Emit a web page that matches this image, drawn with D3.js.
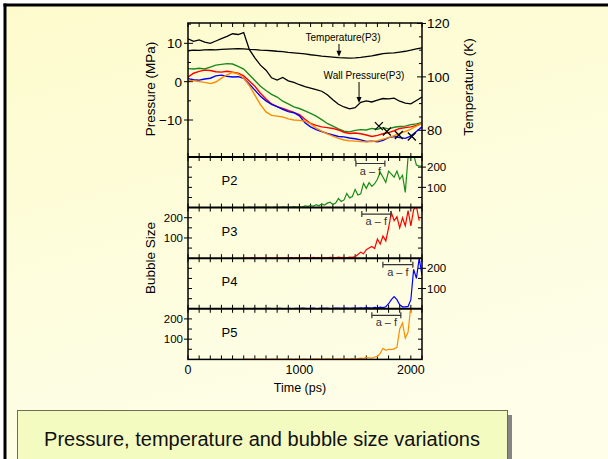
<!DOCTYPE html>
<html>
<head>
<meta charset="utf-8">
<script src="https://cdn.jsdelivr.net/npm/d3@7"></script>
<style>
  html, body { margin: 0; padding: 0; background: #fff; }
  svg { display: block; font-family: "Liberation Sans", Arial, sans-serif; }
</style>
</head>
<body>
<svg id="chart" width="608" height="459"></svg>
<script>
// ---------- data ----------
// Upper panel: time grid (ps) shared by the pressure / temperature traces
const timeTop = [0,50,100,150,200,250,300,350,400,450,500,550,600,650,700,750,800,850,900,950,
  1000,1050,1100,1150,1200,1250,1300,1350,1400,1450,1500,1550,1600,1650,1700,1750,1800,1850,1900,1950,
  2000,2050,2100];

// Wall pressure at P3 (MPa)
const wallPressure = [11.2,10.5,10.9,10.3,10.0,10.6,11.2,11.8,12.5,12.3,12.8,8.4,6.2,4.3,3.0,1.0,0.4,1.1,0.2,-0.2,
  -0.8,-1.3,-1.7,-2.1,-2.5,-3.4,-4.7,-5.9,-6.6,-7.1,-6.8,-5.4,-5.0,-5.3,-4.8,-4.4,-4.5,-4.3,-5.1,-5.6,
  -5.8,-4.9,-4.0];

// Temperature at P3 (K)
const temperature = [109.8,110.0,109.9,110.1,110.2,110.1,110.3,110.4,110.5,110.6,110.5,110.3,110.2,110.0,109.9,109.8,109.6,109.5,109.2,109.0,
  108.8,108.6,108.3,108.1,107.8,107.6,107.4,107.2,107.1,107.0,107.1,107.3,107.6,107.9,108.3,108.7,108.9,109.0,109.3,109.6,
  110.0,110.5,110.9];

// Liquid pressure at the probe points (MPa)
const pressureP2 = [3.4,3.3,3.5,3.3,3.8,4.3,4.5,4.7,4.6,4.0,3.3,1.8,0.3,-1.2,-2.3,-3.3,-4.0,-5.1,-5.8,-6.6,
  -7.0,-7.6,-8.3,-9.0,-9.9,-10.9,-11.6,-12.3,-12.9,-13.1,-12.7,-12.5,-12.6,-12.2,-12.4,-12.0,-12.3,-11.9,-11.7,-11.6,
  -11.2,-11.0,-10.6];
const pressureP3 = [1.2,2.2,2.7,3.0,2.9,2.6,2.5,2.7,2.5,2.2,1.5,0.2,-1.2,-3.0,-4.5,-5.8,-6.5,-7.0,-7.5,-8.0,
  -8.6,-9.8,-10.9,-11.4,-11.8,-12.0,-12.2,-12.6,-13.2,-13.5,-13.4,-13.6,-13.9,-14.3,-14.0,-13.6,-13.3,-12.8,-12.2,-12.0,
  -11.8,-11.4,-10.9];
const pressureP4 = [0.8,0.5,0.4,0.7,0.9,1.5,1.7,1.4,1.2,1.3,0.9,-0.6,-2.2,-3.8,-5.0,-5.9,-6.5,-7.2,-7.8,-8.1,
  -8.9,-10.7,-11.8,-12.5,-13.0,-13.5,-13.9,-14.3,-14.4,-14.7,-14.9,-15.2,-15.6,-15.5,-15.7,-15.3,-14.6,-14.3,-14.6,-14.8,
  -14.2,-13.0,-11.8];
const pressureP5 = [0.4,0.2,0.0,-0.2,-0.5,-0.1,0.9,1.8,2.4,2.0,0.9,-1.0,-3.5,-6.0,-7.9,-8.8,-9.0,-9.2,-9.7,-10.0,
  -10.1,-10.3,-11.0,-12.1,-12.9,-13.6,-14.2,-14.8,-15.2,-15.4,-15.5,-15.6,-15.7,-15.6,-15.4,-15.0,-14.6,-14.1,-13.5,-13.0,
  -12.4,-11.6,-10.9];

// Cavitation onset markers (time in ps, pressure in MPa)
const onsetTime = [1713, 1785, 1892, 2009];
const onsetPressure = [-11.6, -13.0, -13.9, -14.3];

// Bubble panels: time grid (ps)
const timeBubble = [500,525,550,575,600,625,650,675,700,725,750,775,800,825,850,875,900,925,950,975,
  1000,1025,1050,1075,1100,1125,1150,1175,1200,1225,1250,1275,1300,1325,1350,1375,1400,1425,1450,1475,
  1500,1525,1550,1575,1600,1625,1650,1675,1700,1725,1750,1775,1800,1825,1850,1875,1900,1925,1950,1975,
  2000,2025,2050,2075,2100];

const bubbleP2 = [1,0,2,1,0,2,1,3,1,2,0,3,2,1,4,2,3,2,5,3,
  5,3,8,6,10,7,14,9,18,12,22,27,15,23,45,30,38,70,48,55,
  90,62,68,120,95,123,105,118,140,175,150,125,180,165,150,180,140,160,75,250,
  245,262,210,205,205];
const bubbleP3 = [0,1,0,2,1,0,1,0,2,1,0,1,2,1,0,2,1,3,1,2,
  2,1,3,2,1,4,2,3,1,3,2,4,3,2,5,3,4,2,5,4,
  8,18,30,22,42,50,58,48,95,70,110,85,150,225,185,205,150,200,160,235,
  160,240,255,185];
const bubbleP4 = [0,1,0,1,2,0,1,0,1,2,1,0,1,2,1,0,2,1,1,2,
  1,3,2,1,2,3,1,2,4,2,3,1,2,4,3,2,3,4,2,3,
  4,3,5,4,6,5,4,7,5,8,6,10,25,45,60,45,20,10,10,12,
  45,195,150,250,165];
const bubbleP5 = [0,1,0,1,0,2,1,0,1,0,1,2,0,1,0,1,2,1,0,1,
  1,2,1,0,2,1,3,1,2,1,3,2,1,2,3,2,4,3,2,4,
  3,4,6,4,10,8,6,12,15,30,55,45,50,48,52,60,150,180,105,135,
  265];

// Time windows of the snapshots a–f, one per probe panel (ps)
const windowStart = [1507, 1560, 1749, 1650];
const windowEnd   = [1767, 1820, 2018, 1910];

const probeNames = ["P2", "P3", "P4", "P5"];
const probeColors = ["#1a8a1a", "#ff0000", "#0000ff", "#ff8c00"];

// Tick values
const timeTicks = [0, 1000, 2000];
const pressureTicks = [-10, 0, 10];
const temperatureTicks = [80, 100, 120];
const bubbleTicks = [100, 200];

// ---------- layout ----------
const svg = d3.select("#chart");
const left = 188, right = 422;
const topY = 23, topBottom = 157;
const bubbleH = 50.6;

const defs = svg.append("defs");
const bg = defs.append("linearGradient").attr("id", "bg")
  .attr("x1", 0).attr("y1", 0).attr("x2", 0.35).attr("y2", 1);
bg.append("stop").attr("offset", 0).attr("stop-color", "#fdfbcc");
bg.append("stop").attr("offset", 1).attr("stop-color", "#fefee9");

svg.append("rect").attr("width", 608).attr("height", 459).attr("fill", "#ffffff");
svg.append("rect").attr("x", 5).attr("y", 5).attr("width", 603).attr("height", 454).attr("fill", "url(#bg)");
svg.append("line").attr("x1", 3.5).attr("x2", 608).attr("y1", 5).attr("y2", 5)
  .attr("stroke", "#000").attr("stroke-width", 3);
svg.append("line").attr("x1", 5).attr("x2", 5).attr("y1", 3.5).attr("y2", 459)
  .attr("stroke", "#000").attr("stroke-width", 3);

const x = d3.scaleLinear().domain([0, 2100]).range([left, right]);
const yP = d3.scaleLinear().domain([-19.65, 15.3]).range([topBottom, topY]);
const yT = d3.scaleLinear().domain([70, 120]).range([topBottom, topY + 0.5]);

const panelTop = i => topBottom + i * bubbleH;
const yB = probeNames.map((_, i) =>
  d3.scaleLinear().domain([0, 250]).range([panelTop(i) + bubbleH, panelTop(i)]));

// clip paths
defs.append("clipPath").attr("id", "clipTop").append("rect")
  .attr("x", left).attr("y", topY).attr("width", right - left).attr("height", topBottom - topY);
probeNames.forEach((n, i) => {
  defs.append("clipPath").attr("id", "clip" + n).append("rect")
    .attr("x", left).attr("y", panelTop(i)).attr("width", right - left).attr("height", bubbleH);
});

const g = svg.append("g");

// ---------- ticks ----------
const xMinor = d3.range(0, 2101, 100);
function xTicks(yEdge, dir) {
  g.append("g").selectAll("line").data(xMinor).join("line")
    .attr("x1", d => x(d)).attr("x2", d => x(d))
    .attr("y1", yEdge).attr("y2", yEdge + dir * 4)
    .attr("stroke", "#000").attr("stroke-width", 1);
}
xTicks(topY, 1);
xTicks(topBottom, -1);
probeNames.forEach((n, i) => {
  xTicks(panelTop(i), 1);
  xTicks(panelTop(i) + bubbleH, -1);
});

// upper panel left axis (pressure)
const pMinor = [-15, -5, 5, 15];
g.append("g").selectAll("line").data(pMinor).join("line")
  .attr("x1", left).attr("x2", left + 3).attr("y1", d => yP(d)).attr("y2", d => yP(d))
  .attr("stroke", "#000");
g.append("g").selectAll("line").data(pressureTicks).join("line")
  .attr("x1", left - 4).attr("x2", left + 5).attr("y1", d => yP(d)).attr("y2", d => yP(d))
  .attr("stroke", "#000");
g.append("g").selectAll("text").data(pressureTicks).join("text")
  .attr("x", left - 6).attr("y", d => yP(d)).attr("dy", "0.36em")
  .attr("text-anchor", "end").attr("font-size", 13.5)
  .text(d => d < 0 ? "\u2212" + Math.abs(d) : d);

// upper panel right axis (temperature)
const tMinor = [75, 85, 90, 95, 105, 110, 115];
g.append("g").selectAll("line").data(tMinor).join("line")
  .attr("x1", right - 3).attr("x2", right).attr("y1", d => yT(d)).attr("y2", d => yT(d))
  .attr("stroke", "#000");
g.append("g").selectAll("line").data(temperatureTicks).join("line")
  .attr("x1", right - 5).attr("x2", right + 4).attr("y1", d => yT(d)).attr("y2", d => yT(d))
  .attr("stroke", "#000");
g.append("g").selectAll("text").data(temperatureTicks).join("text")
  .attr("x", right + 5).attr("y", d => yT(d)).attr("dy", "0.36em")
  .attr("text-anchor", "start").attr("font-size", 13.5)
  .text(d => d);

// bubble panel axes
const bMinor = [50, 100, 150, 200];
probeNames.forEach((n, i) => {
  const y = yB[i];
  const labelRight = (i % 2 === 0);
  [left, right].forEach(edge => {
    const dir = edge === left ? 1 : -1;
    g.append("g").selectAll("line").data(bMinor).join("line")
      .attr("x1", edge).attr("x2", edge + dir * 4)
      .attr("y1", d => y(d)).attr("y2", d => y(d)).attr("stroke", "#000");
  });
  const edge = labelRight ? right : left;
  const out = labelRight ? 1 : -1;
  g.append("g").selectAll("line").data(bubbleTicks).join("line")
    .attr("x1", edge).attr("x2", edge + out * 4)
    .attr("y1", d => y(d)).attr("y2", d => y(d)).attr("stroke", "#000");
  g.append("g").selectAll("text").data(bubbleTicks).join("text")
    .attr("x", edge + out * 5).attr("y", d => y(d)).attr("dy", "0.36em")
    .attr("text-anchor", labelRight ? "start" : "end").attr("font-size", 11.5)
    .text(d => d);
});

// time axis labels
g.append("g").selectAll("text").data(timeTicks).join("text")
  .attr("x", d => x(d)).attr("y", panelTop(4) + 15)
  .attr("text-anchor", "middle").attr("font-size", 12.5)
  .text(d => d);

// ---------- upper panel traces ----------
const lineP = d3.line().x((d, i) => x(timeTop[i])).y(d => yP(d));
const lineT = d3.line().x((d, i) => x(timeTop[i])).y(d => yT(d));
const topG = g.append("g").attr("clip-path", "url(#clipTop)");

topG.append("path").datum(temperature).attr("d", lineT)
  .attr("fill", "none").attr("stroke", "#000").attr("stroke-width", 1.3);
topG.append("path").datum(wallPressure).attr("d", lineP)
  .attr("fill", "none").attr("stroke", "#000").attr("stroke-width", 1.3);

const probePressures = [pressureP2, pressureP3, pressureP4, pressureP5];
probePressures.forEach((series, i) => {
  topG.append("path").datum(series).attr("d", lineP)
    .attr("fill", "none").attr("stroke", probeColors[i]).attr("stroke-width", 1.4);
});

// onset crosses
onsetTime.forEach((t, i) => {
  const cx = x(t), cy = yP(onsetPressure[i]), r = 4;
  g.append("path")
    .attr("d", `M${cx - r},${cy - r}L${cx + r},${cy + r}M${cx - r},${cy + r}L${cx + r},${cy - r}`)
    .attr("stroke", "#000").attr("stroke-width", 1.3);
});

// annotations with arrows
function valueAt(series, t) {
  const i = d3.bisectLeft(timeTop, t);
  const t0 = timeTop[i - 1], t1 = timeTop[i];
  return series[i - 1] + (series[i] - series[i - 1]) * (t - t0) / (t1 - t0);
}
function arrow(px, yFrom, yTo) {
  g.append("line").attr("x1", px).attr("x2", px).attr("y1", yFrom).attr("y2", yTo - 5)
    .attr("stroke", "#000").attr("stroke-width", 1);
  g.append("path").attr("d", `M${px - 2.5},${yTo - 6}L${px + 2.5},${yTo - 6}L${px},${yTo}Z`).attr("fill", "#000");
}
const tempArrowT = 1355, wallArrowT = 1535;
g.append("text").attr("x", 343).attr("y", 41).attr("text-anchor", "middle")
  .attr("font-size", 10).text("Temperature(P3)");
arrow(x(tempArrowT), 44, yT(valueAt(temperature, tempArrowT)) - 1);
g.append("text").attr("x", 364).attr("y", 79).attr("text-anchor", "middle")
  .attr("font-size", 10).text("Wall Pressure(P3)");
arrow(x(wallArrowT), 82, yP(valueAt(wallPressure, wallArrowT)) - 1);

// ---------- bubble panels ----------
const bubbleSeries = [bubbleP2, bubbleP3, bubbleP4, bubbleP5];
bubbleSeries.forEach((series, i) => {
  const y = yB[i];
  const pg = g.append("g").attr("clip-path", `url(#clip${probeNames[i]})`);
  pg.append("path").datum(series)
    .attr("d", d3.line().x((d, k) => x(timeBubble[k])).y(d => y(d)))
    .attr("fill", "none").attr("stroke", probeColors[i]).attr("stroke-width", 1.2);

  // snapshot window bracket
  const x0 = x(windowStart[i]), x1 = x(windowEnd[i]);
  const by = panelTop(i) + 6.5;
  g.append("path")
    .attr("d", `M${x0},${by - 3}V${by + 3}M${x0},${by}H${x1}M${x1},${by - 3}V${by + 3}`)
    .attr("stroke", "#333").attr("stroke-width", 1.2).attr("fill", "none");
  g.append("text").attr("x", (x0 + x1) / 2).attr("y", by + 11)
    .attr("text-anchor", "middle").attr("font-size", 11).attr("fill", "#333")
    .text("a \u2013 f");

  g.append("text").attr("x", 221.5).attr("y", panelTop(i) + 28)
    .attr("font-size", 13).text(probeNames[i]);
});

// ---------- frame ----------
g.append("rect").attr("x", left).attr("y", topY).attr("width", right - left)
  .attr("height", panelTop(4) - topY).attr("fill", "none").attr("stroke", "#000").attr("stroke-width", 1.5);
[0, 1, 2, 3].forEach(i => {
  g.append("line").attr("x1", left).attr("x2", right).attr("y1", panelTop(i)).attr("y2", panelTop(i))
    .attr("stroke", "#000").attr("stroke-width", 2);
});

// ---------- axis titles ----------
g.append("text").attr("transform", "translate(155,89) rotate(-90)")
  .attr("text-anchor", "middle").attr("font-size", 13.5).text("Pressure (MPa)");
g.append("text").attr("transform", "translate(155,258) rotate(-90)")
  .attr("text-anchor", "middle").attr("font-size", 13.5).text("Bubble Size");
g.append("text").attr("transform", "translate(473,87) rotate(-90)")
  .attr("text-anchor", "middle").attr("font-size", 13.5).text("Temperature (K)");
g.append("text").attr("x", 300).attr("y", 392).attr("text-anchor", "middle")
  .attr("font-size", 12.5).text("Time (ps)");

// ---------- caption ----------
svg.append("rect").attr("x", 22).attr("y", 415).attr("width", 490).attr("height", 60).attr("fill", "#858585");
svg.append("rect").attr("x", 17.5).attr("y", 410.5).attr("width", 490).attr("height", 60)
  .attr("fill", "#f3fbc0").attr("stroke", "#6e6e55").attr("stroke-width", 1);
svg.append("text").attr("x", 262).attr("y", 446).attr("text-anchor", "middle")
  .attr("font-size", 20).attr("fill", "#111")
  .text("Pressure, temperature and bubble size variations");
</script>
</body>
</html>
